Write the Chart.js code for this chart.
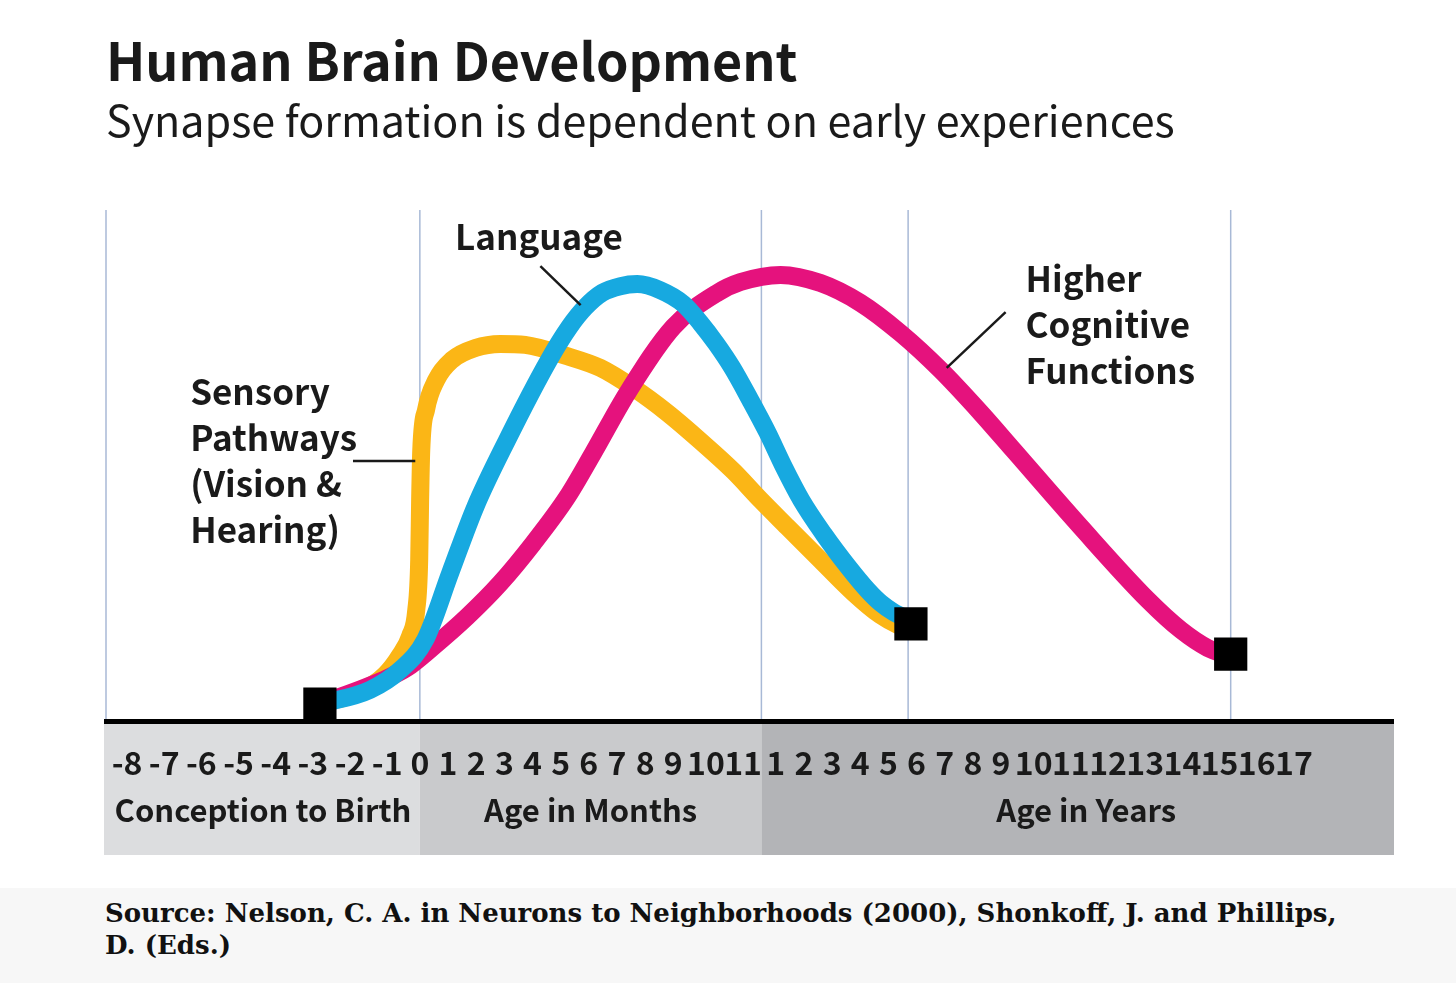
<!DOCTYPE html>
<html>
<head>
<meta charset="utf-8">
<title>Human Brain Development</title>
<script src="https://cdn.jsdelivr.net/npm/chart.js@4.4.1/dist/chart.umd.min.js"></script>
<style>
  html, body { margin: 0; padding: 0; background: #fff; }
  #wrap { width: 1456px; height: 983px; position: relative; overflow: hidden; }
  #source {
    position: absolute; left: 0; top: 888px; width: 1456px; height: 95px;
    background: #f7f7f7; box-sizing: border-box; padding: 9px 91px 0 105px;
    font-family: "DejaVu Serif", "Liberation Serif", serif; font-weight: bold;
    font-size: 26px; line-height: 32px; color: #111;
  }
</style>
</head>
<body>
<div id="wrap">
  <canvas id="brain" width="1456" height="888"></canvas>
  <div id="source">Source: Nelson, C. A. in Neurons to Neighborhoods (2000), Shonkoff, J. and Phillips, D. (Eds.)</div>
</div>
<script>
// x axis: one step per tick label (prenatal months, months, years)
const tickLabels = ['-8', '-7', '-6', '-5', '-4', '-3', '-2', '-1',
  '0', '1', '2', '3', '4', '5', '6', '7', '8', '9', '10', '11',
  '1', '2', '3', '4', '5', '6', '7', '8', '9', '10', '11', '12', '13', '14', '15', '16', '17'];
const groupLabels = ['Conception to Birth', 'Age in Months', 'Age in Years'];
// birth, one year, ~6 years, ~15 years (in tick steps)
const milestones = [8, 19.56, 24.7, 34.3];

// curves: x in tick steps, y = relative synapse formation (0-100)
const sensoryX = [5.19, 6.27, 6.94, 7.40, 7.70, 7.89, 7.98, 8.01, 8.05, 8.22, 8.58, 9.15, 9.97, 10.86, 11.74, 13.23, 14.41, 15.58, 16.79, 17.83, 18.74, 19.53, 20.41, 21.59, 22.76, 23.72, 24.33, 24.61];
const sensoryY = [3.3, 5.7, 9.0, 12.9, 16.6, 21.7, 31.5, 43.3, 53.0, 60.9, 66.7, 70.7, 73.0, 73.8, 73.6, 71.4, 69.1, 65.2, 60.3, 54.8, 48.9, 43.3, 38.0, 31.5, 25.1, 20.7, 18.8, 18.2];

const languageX = [5.19, 6.54, 7.40, 8.19, 9.08, 9.97, 11.10, 12.59, 13.31, 13.88, 14.48, 15.12, 15.72, 16.54, 17.31, 17.83, 18.28, 18.71, 19.22, 19.75, 20.27, 20.91, 21.70, 22.58, 23.26, 23.72, 24.18, 24.72];
const languageY = [3.3, 6.1, 10.0, 15.9, 29.0, 41.9, 55.0, 70.7, 77.1, 81.0, 83.8, 85.1, 85.5, 84.3, 81.6, 77.9, 73.8, 69.1, 62.8, 56.4, 49.9, 43.2, 36.6, 30.1, 25.6, 23.1, 21.3, 19.8];

const cognitiveX = [5.19, 6.89, 7.61, 8.47, 9.68, 10.86, 12.03, 13.23, 14.16, 15.37, 17.00, 18.31, 18.93, 20.17, 21.59, 23.01, 24.43, 25.85, 27.28, 28.38, 30.26, 32.07, 32.96, 33.68, 34.22];
const cognitiveY = [3.3, 8.0, 10.4, 14.5, 20.4, 27.0, 34.8, 43.8, 52.5, 64.2, 77.1, 83.8, 85.9, 87.3, 85.7, 81.8, 75.9, 68.7, 60.3, 53.0, 38.0, 23.7, 17.8, 14.3, 12.9];

const endpointX = [5.19, 24.8, 34.3];
const endpointY = [3.3, 19.0, 13.1];

// tick spacing follows the label width (two-character labels get more room)
const tickW = tickLabels.map(t => (t.length > 1 ? 1.32 : 1));
const tickPos = [];
tickLabels.forEach((t, i) => {
  tickPos.push(i === 0 ? 0 : tickPos[i - 1] + (tickW[i - 1] + tickW[i]) / 2);
});
function stepToPos(s) {
  const i = Math.max(0, Math.min(Math.floor(s), tickPos.length - 2));
  return tickPos[i] + (s - i) * (tickPos[i + 1] - tickPos[i]);
}
function pts(xs, ys) {
  return xs.map((x, i) => ({ x: stepToPos(x), y: ys[i] }));
}

const SANS = '"Noto Sans CJK JP", "Noto Sans", "Open Sans", sans-serif';
const INK = '#1a1a1a';

const decor = {
  id: 'decor',
  beforeDraw(chart) {
    const ctx = chart.ctx;
    const xs = chart.scales.x;
    const area = chart.chartArea;
    const b1 = xs.getPixelForValue(stepToPos(milestones[0]));
    const b2 = xs.getPixelForValue(stepToPos(milestones[1]));
    const left = area.left - 2, right = area.right + 1, top = area.bottom, bot = 855;
    ctx.save();
    ctx.fillStyle = '#dcdddf';
    ctx.fillRect(left, top, b1 - left, bot - top);
    ctx.fillStyle = '#c9cacc';
    ctx.fillRect(b1, top, b2 - b1, bot - top);
    ctx.fillStyle = '#b3b4b7';
    ctx.fillRect(b2, top, right - b2, bot - top);
    ctx.restore();
  },
  beforeDatasetsDraw(chart) {
    const ctx = chart.ctx;
    const xs = chart.scales.x;
    const area = chart.chartArea;
    ctx.save();
    ctx.strokeStyle = '#a8b9d6';
    ctx.lineWidth = 1.5;
    const lines = [area.left].concat(milestones.map(m => xs.getPixelForValue(stepToPos(m))));
    lines.forEach(px => {
      ctx.beginPath();
      ctx.moveTo(px, area.top);
      ctx.lineTo(px, area.bottom);
      ctx.stroke();
    });
    // axis line
    ctx.strokeStyle = '#000';
    ctx.lineWidth = 5;
    ctx.beginPath();
    ctx.moveTo(area.left - 2, area.bottom + 0.5);
    ctx.lineTo(area.right + 1, area.bottom + 0.5);
    ctx.stroke();
    ctx.restore();
  },
  afterDraw(chart) {
    const ctx = chart.ctx;
    const xs = chart.scales.x, ys = chart.scales.y;
    const area = chart.chartArea;
    const P = (s, y) => [xs.getPixelForValue(stepToPos(s)), ys.getPixelForValue(y)];
    ctx.save();
    // group labels under the ticks
    const bounds = [area.left, P(milestones[0], 0)[0], P(milestones[1], 0)[0], area.right];
    ctx.fillStyle = INK;
    ctx.font = 'bold 31px ' + SANS;
    ctx.textAlign = 'center';
    ctx.textBaseline = 'alphabetic';
    groupLabels.forEach((g, i) => {
      ctx.fillText(g, (bounds[i] + bounds[i + 1]) / 2 + (i === 2 ? 9 : 0), 822);
    });

    // callout leader lines
    ctx.strokeStyle = INK;
    ctx.lineWidth = 2.5;
    const lead = (a, b) => {
      const p = P(a[0], a[1]), q = P(b[0], b[1]);
      ctx.beginPath();
      ctx.moveTo(p[0], p[1]);
      ctx.lineTo(q[0], q[1]);
      ctx.stroke();
    };
    lead([12.28, 89.0], [13.71, 81.4]);
    lead([28.14, 80.0], [26.07, 69.1]);
    lead([6.08, 50.9], [7.86, 50.9]);

    ctx.font = 'bold 35px ' + SANS;
    ctx.textAlign = 'left';
    const note = (lines, s, y) => {
      lines.forEach((t, i) => {
        const p = P(s, y);
        ctx.fillText(t, p[0], p[1] + i * 46);
      });
    };
    note(['Language'], 9.25, 92.2);
    note(['Higher', 'Cognitive', 'Functions'], 28.75, 84.0);
    note(['Sensory', 'Pathways', '(Vision &', 'Hearing)'], 1.70, 61.8);
    ctx.restore();
  }
};

new Chart(document.getElementById('brain').getContext('2d'), {
  type: 'line',
  data: {
    datasets: [
      {
        label: 'Endpoints',
        type: 'scatter',
        data: pts(endpointX, endpointY),
        pointStyle: 'rect',
        pointRadius: 23.5,
        pointHoverRadius: 23.5,
        backgroundColor: '#000',
        borderColor: '#000',
        borderWidth: 0,
        clip: false,
        order: 0
      },
      {
        label: 'Language',
        data: pts(languageX, languageY),
        borderColor: '#17a9e0',
        order: 1
      },
      {
        label: 'Higher Cognitive Functions',
        data: pts(cognitiveX, cognitiveY),
        borderColor: '#e5127d',
        order: 2
      },
      {
        label: 'Sensory Pathways (Vision & Hearing)',
        data: pts(sensoryX, sensoryY),
        borderColor: '#fbb616',
        order: 3
      }
    ]
  },
  options: {
    responsive: false,
    animation: false,
    events: [],
    layout: { padding: { left: 106, right: 63, top: 35, bottom: 33 } },
    elements: {
      line: {
        borderWidth: 18,
        cubicInterpolationMode: 'monotone',
        borderCapStyle: 'round',
        borderJoinStyle: 'round',
        fill: false
      },
      point: { radius: 0 }
    },
    plugins: {
      legend: { display: false },
      tooltip: { enabled: false },
      title: {
        display: true,
        text: 'Human Brain Development',
        align: 'start',
        color: INK,
        font: { family: SANS, size: 52, weight: 'bold', lineHeight: 1 },
        padding: { top: 0, bottom: 0 }
      },
      subtitle: {
        display: true,
        text: 'Synapse formation is dependent on early experiences',
        align: 'start',
        color: INK,
        font: { family: SANS, size: 43, weight: 'normal', lineHeight: 1 },
        padding: { top: 12, bottom: 68 }
      }
    },
    scales: {
      x: {
        type: 'linear',
        min: -0.746,
        max: 44.96,
        grid: { display: false },
        border: { display: false },
        afterBuildTicks: (scale) => {
          scale.ticks = tickPos.map(p => ({ value: p }));
        },
        afterFit: (scale) => { scale.height = 134; },
        ticks: {
          autoSkip: false,
          maxRotation: 0,
          padding: 15,
          color: INK,
          font: { family: SANS, size: 32, weight: 'bold' },
          callback: (v, i) => tickLabels[i]
        }
      },
      y: {
        type: 'linear',
        min: 0,
        max: 100,
        display: false
      }
    }
  },
  plugins: [decor]
});
</script>
</body>
</html>
